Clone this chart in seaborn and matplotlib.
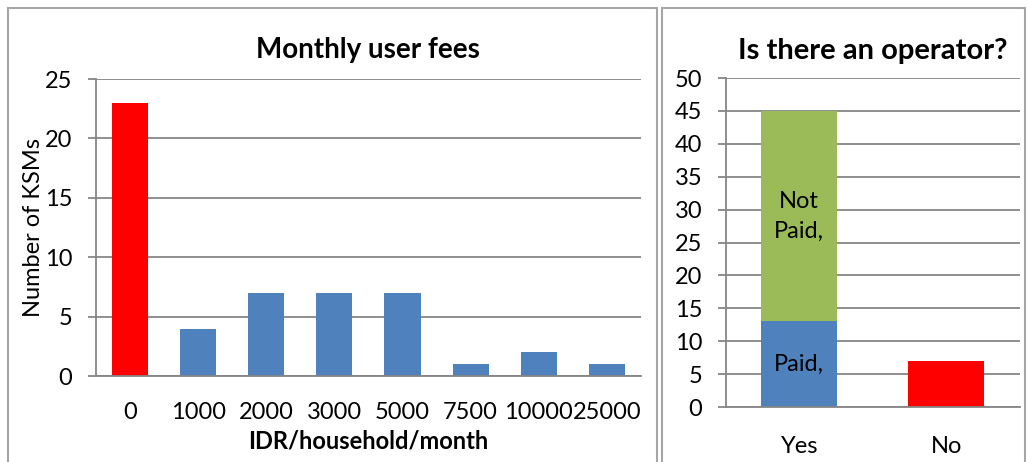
import numpy as np
import pandas as pd
import matplotlib
matplotlib.use("Agg")
import matplotlib.pyplot as plt
import seaborn as sns
from matplotlib.patches import Rectangle

# data
fee_labels = ["0", "1000", "2000", "3000", "5000", "7500", "10000", "25000"]
fee_counts = [23, 4, 7, 7, 7, 1, 2, 1]

op_labels = ["Yes", "No"]
op_paid = [13, 0]
op_not_paid = [32, 0]
op_none = [0, 7]

sns.set_style("white")
plt.rcParams["font.family"] = ["Lato", "DejaVu Sans"]
plt.rcParams["text.color"] = "black"
plt.rcParams["xtick.color"] = "black"
plt.rcParams["ytick.color"] = "black"
plt.rcParams["axes.labelcolor"] = "black"

GRID = "#868686"
BLUE = "#4F81BD"
GREEN = "#9BBB59"
RED = "#FF0000"

fig = plt.figure(figsize=(10.28, 4.62), dpi=100)

# panel frames like the spreadsheet chart boxes
for x0, x1 in [(8, 657), (662, 1025)]:
    fig.patches.append(Rectangle((x0 / 1028, -0.1), (x1 - x0) / 1028, 1.1 - 8 / 462,
                                 transform=fig.transFigure, fill=False,
                                 edgecolor="#A6A6A6", lw=1.5))


def style_axes(ax, ymax, step, n):
    ax.set_ylim(0, ymax)
    ax.set_xlim(-0.5, n - 0.5)
    ax.set_yticks(np.arange(0, ymax + 1, step))
    ax.yaxis.grid(True, color=GRID, lw=1.3)
    ax.set_axisbelow(True)
    for s in ["top", "right"]:
        ax.spines[s].set_visible(False)
    for s in ["left", "bottom"]:
        ax.spines[s].set_color(GRID)
        ax.spines[s].set_linewidth(1.3)
    ax.set_xticks(np.arange(-0.5, n, 1), minor=True)
    ax.tick_params(axis="x", which="minor", length=6, width=1.3, color=GRID, direction="out")
    ax.tick_params(axis="x", which="major", length=0, labelsize=17)
    ax.tick_params(axis="y", length=6, width=1.3, color=GRID, direction="out",
                   pad=11, labelsize=17, left=True)


# left chart
ax1 = fig.add_axes([0.0934, 0.186, 0.530, 0.643])
fee_df = pd.DataFrame({"fee": fee_labels, "count": fee_counts})
sns.barplot(data=fee_df, x="fee", y="count", hue="fee",
            palette=[RED] + [BLUE] * (len(fee_labels) - 1),
            legend=False, width=0.53, saturation=1, linewidth=0, ax=ax1)
style_axes(ax1, 25, 5, len(fee_labels))
ax1.tick_params(axis="x", which="major", pad=19)
ax1.set_title("Monthly user fees", fontsize=20, fontweight="bold", pad=15)
ax1.set_xlabel("IDR/household/month", fontsize=17, fontweight="bold", labelpad=4)
ax1.set_ylabel("Number of KSMs", fontsize=17, labelpad=1)

# right chart
ax2 = fig.add_axes([0.706, 0.119, 0.286, 0.712])
op_df = pd.DataFrame({"op": op_labels,
                      "total": np.array(op_paid) + np.array(op_not_paid),
                      "paid": op_paid, "none": op_none})
sns.barplot(data=op_df, x="op", y="total", color=GREEN, width=0.52, saturation=1,
            linewidth=0, ax=ax2)
sns.barplot(data=op_df, x="op", y="paid", color=BLUE, width=0.52, saturation=1,
            linewidth=0, ax=ax2)
sns.barplot(data=op_df, x="op", y="none", color=RED, width=0.52, saturation=1,
            linewidth=0, ax=ax2)
style_axes(ax2, 50, 5, len(op_labels))
ax2.tick_params(axis="x", which="major", pad=21)
ax2.set_title("Is there an operator?", fontsize=21, fontweight="bold", pad=14)
ax2.set_xlabel("")
ax2.set_ylabel("")

ax2.text(0, op_paid[0] / 2, "Paid,", ha="center", va="center", fontsize=17)
ax2.text(0, op_paid[0] + op_not_paid[0] / 2, "Not\nPaid,", ha="center", va="center",
         fontsize=17, linespacing=1.5)

fig.savefig("out.png", dpi=100)
